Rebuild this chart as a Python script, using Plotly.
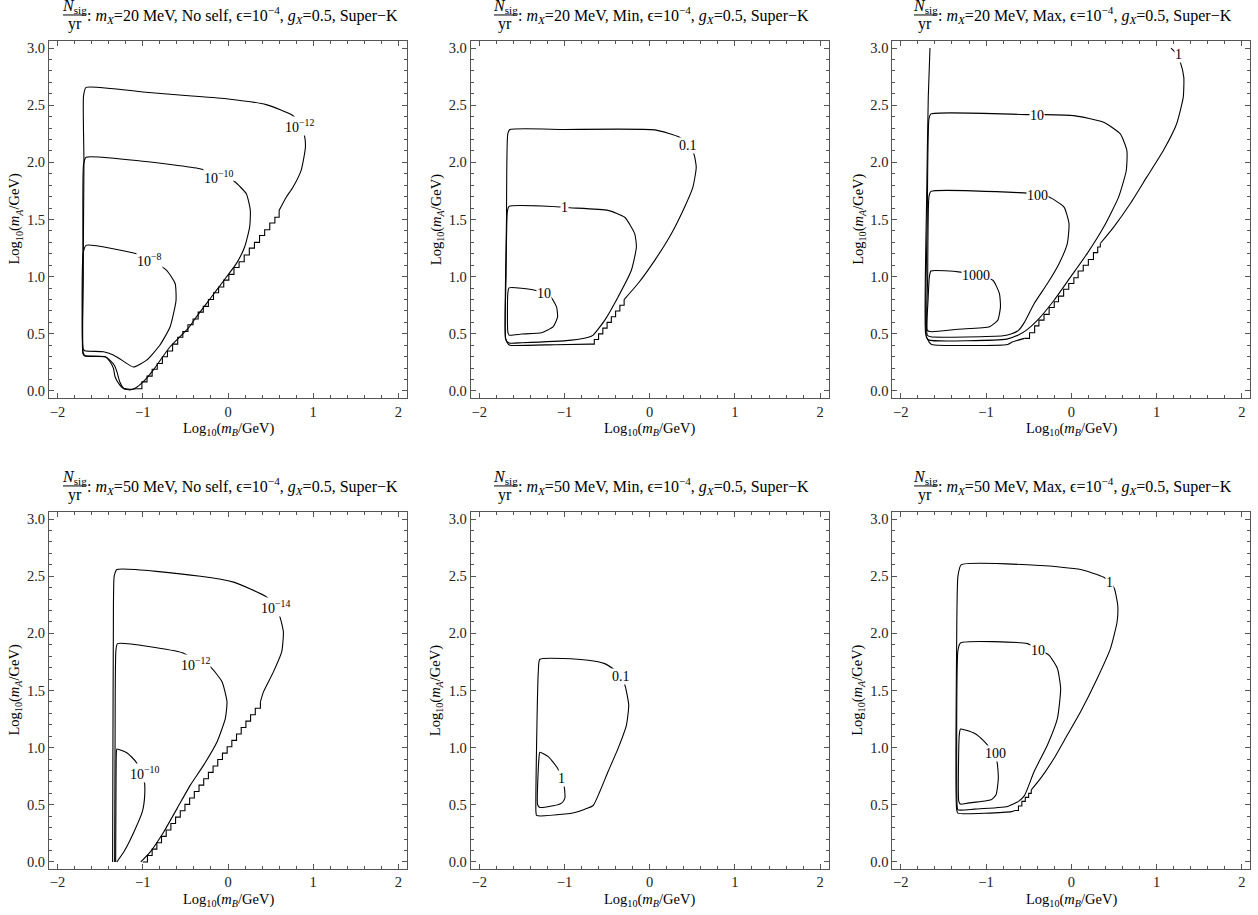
import plotly.graph_objects as go

W, H = 1258, 915
FONT = "Liberation Serif, Times New Roman, DejaVu Serif, serif"

# ---------------- axis ticks ----------------
x_tickvals = [-2, -1, 0, 1, 2]
x_ticktext = ["\u22122", "\u22121", "0", "1", "2"]
y_tickvals = [0.0, 0.5, 1.0, 1.5, 2.0, 2.5, 3.0]
y_ticktext = ["0.0", "0.5", "1.0", "1.5", "2.0", "2.5", "3.0"]
x_range = [-2.1, 2.1]
y_range = [-0.0625, 3.0625]

# ---------------- panel titles ----------------
panel_mx = ["20", "20", "20", "50", "50", "50"]
panel_mode = ["No self", "Min", "Max", "No self", "Min", "Max"]

# ---------------- panel 1 : mX=20 MeV, No self ----------------
p1_a_x = [-1.07, -1.15, -1.228, -1.283, -1.325, -1.344, -1.384, -1.44, -1.68, -1.703, -1.70, -1.69, -1.695, -1.665,
          -1.0, -0.5, 0.0, 0.448, 0.76, 0.84, 0.897, 0.908, 0.858, 0.76, 0.683, 0.60]
p1_a_y = [0.02, 0.015, 0.023, 0.067, 0.125, 0.198, 0.256, 0.30, 0.305, 0.33, 1.0, 2.0, 2.58, 2.656,
          2.616, 2.585, 2.555, 2.505, 2.41, 2.34, 2.235, 2.13, 1.93, 1.78, 1.695, 1.58]
p1_stair_x = [-1.07, -1.01, -0.95, -0.89, -0.83, -0.77, -0.71, -0.65, -0.59, -0.53, -0.47, -0.41, -0.35, -0.29,
              -0.23, -0.17, -0.11, -0.05, 0.01, 0.07, 0.13, 0.19, 0.25, 0.31, 0.37, 0.43, 0.49, 0.55, 0.60]
p1_stair_y = [0.02, 0.08, 0.13, 0.19, 0.24, 0.30, 0.35, 0.41, 0.47, 0.52, 0.58, 0.63, 0.69, 0.74,
              0.80, 0.86, 0.91, 0.97, 1.02, 1.08, 1.13, 1.19, 1.25, 1.30, 1.36, 1.41, 1.47, 1.52, 1.58]
p1_b_x = [-1.09, -1.15, -1.22, -1.27, -1.30, -1.33, -1.38, -1.44, -1.68, -1.70, -1.70, -1.695, -1.665,
          -1.0, -0.33, -0.117, 0.078, 0.215, 0.262, 0.254, 0.195, 0.098, -0.019, -0.136, -0.253, -0.37,
          -0.468, -0.68, -0.877, -0.994, -1.09]
p1_b_y = [0.023, 0.01, 0.02, 0.08, 0.16, 0.22, 0.265, 0.30, 0.31, 0.34, 1.0, 1.98, 2.045,
          2.01, 1.944, 1.89, 1.83, 1.725, 1.58, 1.434, 1.26, 1.114, 0.997, 0.88, 0.765, 0.648,
          0.547, 0.387, 0.183, 0.081, 0.023]
p1_c_x = [-1.665, -1.072, -0.916, -0.72, -0.62, -0.61, -0.68, -0.80, -0.954, -1.11, -1.247, -1.345, -1.46,
          -1.68, -1.70, -1.70, -1.665]
p1_c_y = [1.274, 1.20, 1.15, 1.056, 0.94, 0.79, 0.56, 0.40, 0.27, 0.21, 0.27, 0.314, 0.343,
          0.352, 0.37, 1.2, 1.274]
p1_lab_text = ["10<sup>\u221212</sup>", "10<sup>\u221210</sup>", "10<sup>\u22128</sup>"]
p1_lab_x = [0.838, -0.117, -0.916]
p1_lab_y = [2.322, 1.871, 1.143]

# ---------------- panel 2 : mX=20 MeV, Min ----------------
p2_a_x = [-0.30, -0.137, 0.059, 0.254, 0.41, 0.507, 0.546, 0.52, 0.45, 0.35, 0.06, -1.0, -1.64, -1.665,
          -1.68, -1.69, -1.66, -1.64, -1.112, -0.70]
p2_a_y = [0.80, 0.94, 1.143, 1.376, 1.61, 1.784, 1.958, 2.07, 2.15, 2.22, 2.284, 2.288, 2.287, 2.25,
          1.5, 0.46, 0.41, 0.40, 0.405, 0.41]
p2_stair_x = [-0.70, -0.65, -0.60, -0.55, -0.50, -0.45, -0.40, -0.35, -0.30]
p2_stair_y = [0.41, 0.45, 0.50, 0.55, 0.60, 0.65, 0.70, 0.75, 0.80]
p2_b_x = [-1.65, -1.034, -0.937, -0.488, -0.293, -0.176, -0.156, -0.215, -0.371, -0.527, -0.663, -0.72,
          -0.917, -1.50, -1.65, -1.69, -1.685, -1.67, -1.65]
p2_b_y = [1.615, 1.609, 1.603, 1.58, 1.52, 1.376, 1.26, 1.056, 0.823, 0.62, 0.489, 0.47,
          0.445, 0.422, 0.42, 0.45, 1.0, 1.57, 1.615]
p2_c_x = [-1.65, -1.346, -1.237, -1.16, -1.093, -1.081, -1.132, -1.268, -1.502, -1.65, -1.665, -1.665, -1.65]
p2_c_y = [0.902, 0.882, 0.853, 0.823, 0.736, 0.649, 0.562, 0.509, 0.498, 0.489, 0.52, 0.85, 0.902]
p2_lab_text = ["0.1", "1", "10"]
p2_lab_x = [0.449, -0.995, -1.237]
p2_lab_y = [2.147, 1.609, 0.853]

# ---------------- panel 3 : mX=20 MeV, Max ----------------
p3_a_x = [-1.658, -1.678, -1.697, -1.709, -1.67, -1.639, -0.746, -0.687, -0.55]
p3_a_y = [3.0, 2.57, 1.696, 0.503, 0.43, 0.407, 0.407, 0.43, 0.46]
p3_stair_x = [-0.55, -0.49, -0.43, -0.38, -0.32, -0.26, -0.20, -0.15, -0.09, -0.03, 0.03, 0.08, 0.14,
              0.20, 0.26, 0.31, 0.34]
p3_stair_y = [0.46, 0.51, 0.57, 0.62, 0.67, 0.73, 0.78, 0.83, 0.89, 0.94, 0.99, 1.05, 1.10,
              1.15, 1.21, 1.26, 1.29]
p3_a2_x = [0.34, 0.497, 0.691, 0.885, 1.08, 1.235, 1.313, 1.32, 1.28, 1.235, 1.17]
p3_a2_y = [1.29, 1.434, 1.638, 1.871, 2.104, 2.336, 2.569, 2.744, 2.875, 2.95, 3.0]
p3_b_x = [-1.647, -0.513, -0.318, 0.031, 0.38, 0.575, 0.652, 0.645, 0.555, 0.38, 0.186, -0.008, -0.202,
          -0.396, -0.53, -0.62, -0.757, -1.67, -1.70, -1.69, -1.67, -1.647]
p3_b_y = [2.424, 2.418, 2.418, 2.409, 2.351, 2.249, 2.104, 1.929, 1.696, 1.434, 1.202, 0.998, 0.794,
          0.62, 0.53, 0.49, 0.454, 0.445, 0.47, 1.5, 2.38, 2.424]
p3_c_x = [-1.647, -0.62, -0.40, -0.26, -0.085, -0.027, -0.047, -0.144, -0.28, -0.435, -0.55, -0.62, -0.70,
          -0.80, -1.65, -1.69, -1.685, -1.67, -1.647]
p3_c_y = [1.746, 1.735, 1.72, 1.696, 1.609, 1.464, 1.289, 1.114, 0.94, 0.765, 0.60, 0.53, 0.50,
          0.483, 0.474, 0.49, 1.0, 1.70, 1.746]
p3_d_x = [-1.647, -1.3, -1.115, -0.92, -0.843, -0.831, -0.862, -0.959, -1.328, -1.639, -1.689, -1.68,
          -1.665, -1.647]
p3_d_y = [1.05, 1.04, 1.013, 0.969, 0.852, 0.736, 0.62, 0.562, 0.54, 0.518, 0.53, 0.8, 1.0, 1.05]
p3_lab_text = ["1", "10", "100", "1000"]
p3_lab_x = [1.254, -0.404, -0.396, -1.115]
p3_lab_y = [2.947, 2.409, 1.711, 1.013]

# ---------------- panel 4 : mX=50 MeV, No self ----------------
p4_stair_x = [-1.00, -0.945, -0.89, -0.835, -0.78, -0.725, -0.67, -0.615, -0.56, -0.505, -0.45, -0.395, -0.34,
              -0.285, -0.23, -0.175, -0.12, -0.065, -0.01, 0.045, 0.10, 0.155, 0.21, 0.265, 0.32, 0.38]
p4_stair_y = [0.00, 0.056, 0.112, 0.168, 0.224, 0.28, 0.336, 0.392, 0.448, 0.504, 0.56, 0.616, 0.672,
              0.728, 0.784, 0.84, 0.896, 0.952, 1.008, 1.064, 1.12, 1.176, 1.232, 1.288, 1.344, 1.40]
p4_a_x = [0.38, 0.416, 0.533, 0.63, 0.65, 0.61, 0.553, 0.455, 0.066, -0.323, -1.303, -1.335, -1.345, -1.35, -1.354]
p4_a_y = [1.40, 1.488, 1.663, 1.837, 2.012, 2.142, 2.23, 2.317, 2.448, 2.50, 2.558, 2.50, 2.0, 1.0, 0.0]
p4_b_x = [-1.33, -1.325, -1.315, -1.296, -0.537, -0.38, -0.206, -0.07, -0.012, -0.031, -0.128, -0.284, -0.44,
          -0.595, -0.751, -0.907, -1.023]
p4_b_y = [0.0, 1.0, 1.85, 1.91, 1.831, 1.77, 1.706, 1.576, 1.401, 1.256, 1.052, 0.849, 0.674,
          0.471, 0.267, 0.093, 0.0]
p4_c_x = [-1.318, -1.315, -1.31, -1.303, -1.179, -1.082, -1.03, -0.984, -0.977, -1.004, -1.101, -1.218, -1.304]
p4_c_y = [0.0, 0.5, 0.95, 0.988, 0.951, 0.878, 0.80, 0.718, 0.587, 0.442, 0.267, 0.093, 0.0]
p4_lab_text = ["10<sup>\u221214</sup>", "10<sup>\u221212</sup>", "10<sup>\u221210</sup>"]
p4_lab_x = [0.553, -0.381, -0.984]
p4_lab_y = [2.23, 1.735, 0.776]

# ---------------- panel 5 : mX=50 MeV, Min ----------------
p5_a_x = [-1.288, -0.722, -0.527, -0.34, -0.285, -0.246, -0.273, -0.371, -0.488, -0.585, -0.663, -0.76,
          -0.878, -0.995, -1.327, -1.335, -1.327, -1.307, -1.288]
p5_a_y = [1.773, 1.765, 1.735, 1.64, 1.532, 1.372, 1.198, 0.994, 0.791, 0.616, 0.494, 0.462,
          0.433, 0.419, 0.407, 0.442, 1.023, 1.663, 1.773]
p5_b_x = [-1.288, -1.19, -1.081, -1.034, -1.003, -0.995, -1.034, -1.132, -1.288, -1.315, -1.30, -1.288]
p5_b_y = [0.959, 0.922, 0.82, 0.733, 0.66, 0.558, 0.515, 0.491, 0.477, 0.50, 0.9, 0.959]
p5_lab_text = ["0.1", "1"]
p5_lab_x = [-0.34, -1.034]
p5_lab_y = [1.619, 0.733]

# ---------------- panel 6 : mX=50 MeV, Max ----------------
p6_stair_x = [-0.66, -0.62, -0.58, -0.54, -0.50, -0.47]
p6_stair_y = [0.45, 0.49, 0.53, 0.565, 0.60, 0.63]
p6_a_x = [-0.47, -0.358, -0.202, -0.047, 0.109, 0.304, 0.459, 0.537, 0.545, 0.506, 0.451, 0.381, 0.109,
          -0.358, -1.292, -1.33, -1.345, -1.345, -1.331, -0.70, -0.66]
p6_a_y = [0.63, 0.733, 0.907, 1.11, 1.314, 1.605, 1.866, 2.099, 2.244, 2.39, 2.45, 2.491, 2.558,
          2.593, 2.599, 2.5, 1.9, 0.46, 0.427, 0.44, 0.45]
p6_b_x = [-1.3, -0.514, -0.39, -0.26, -0.163, -0.125, -0.163, -0.28, -0.436, -0.55, -0.62, -0.747, -1.136,
          -1.331, -1.34, -1.33, -1.3]
p6_b_y = [1.916, 1.91, 1.86, 1.808, 1.692, 1.517, 1.256, 1.023, 0.791, 0.58, 0.53, 0.485, 0.462,
          0.456, 0.50, 1.85, 1.916]
p6_c_x = [-1.3, -1.136, -1.019, -0.94, -0.872, -0.856, -0.883, -0.942, -1.214, -1.3, -1.32, -1.315, -1.3]
p6_c_y = [1.163, 1.125, 1.052, 0.98, 0.878, 0.733, 0.587, 0.544, 0.515, 0.506, 0.53, 1.1, 1.163]
p6_lab_text = ["1", "10", "100"]
p6_lab_x = [0.451, -0.389, -0.895]
p6_lab_y = [2.442, 1.852, 0.951]

panels = [
    dict(lines=[(p1_a_x, p1_a_y), (p1_b_x, p1_b_y), (p1_c_x, p1_c_y)], stairs=[(p1_stair_x, p1_stair_y)],
         labels=(p1_lab_text, p1_lab_x, p1_lab_y)),
    dict(lines=[(p2_a_x, p2_a_y), (p2_b_x, p2_b_y), (p2_c_x, p2_c_y)], stairs=[(p2_stair_x, p2_stair_y)],
         labels=(p2_lab_text, p2_lab_x, p2_lab_y)),
    dict(lines=[(p3_a_x, p3_a_y), (p3_a2_x, p3_a2_y), (p3_b_x, p3_b_y), (p3_c_x, p3_c_y), (p3_d_x, p3_d_y)],
         stairs=[(p3_stair_x, p3_stair_y)], labels=(p3_lab_text, p3_lab_x, p3_lab_y)),
    dict(lines=[(p4_a_x, p4_a_y), (p4_b_x, p4_b_y), (p4_c_x, p4_c_y)], stairs=[(p4_stair_x, p4_stair_y)],
         labels=(p4_lab_text, p4_lab_x, p4_lab_y)),
    dict(lines=[(p5_a_x, p5_a_y), (p5_b_x, p5_b_y)], stairs=[], labels=(p5_lab_text, p5_lab_x, p5_lab_y)),
    dict(lines=[(p6_a_x, p6_a_y), (p6_b_x, p6_b_y), (p6_c_x, p6_c_y)], stairs=[(p6_stair_x, p6_stair_y)],
         labels=(p6_lab_text, p6_lab_x, p6_lab_y)),
]

# layout geometry (pixels)
col_left = [49, 470.7, 892.3]
row_top = [40, 512]
SIZE = 358
frac_bar = [(14, 37), (23.3, 46), (21.7, 44.4)]

TICK_SIZE = 14.5
LAB_SIZE = 14
TITLE_SIZE = 16


def px(x):
    return x / W


def py(y):
    return 1 - y / H


def ann(**kw):
    d = dict(showarrow=False, xanchor="center", yanchor="middle")
    d.update(kw)
    return d


fig = go.Figure()
layout = dict(width=W, height=H, margin=dict(l=0, r=0, t=0, b=0, pad=0), paper_bgcolor="white",
              plot_bgcolor="white", showlegend=False, font=dict(family=FONT, size=14, color="black"))
annotations = []
shapes = []

for k, p in enumerate(panels):
    r, c = divmod(k, 3)
    n = "" if k == 0 else str(k + 1)
    xa, ya = "x" + n, "y" + n
    L, T = col_left[c], row_top[r]
    axis_common = dict(showgrid=False, zeroline=False, showline=True, linecolor="#555", linewidth=1,
                       mirror="allticks", ticks="inside", ticklen=5, tickwidth=1, tickcolor="#555",
                       tickfont=dict(family=FONT, size=TICK_SIZE, color="#222"))
    layout["xaxis" + n] = dict(domain=[px(L), px(L + SIZE)], range=x_range, anchor=ya,
                               tickvals=x_tickvals, ticktext=x_ticktext,
                               minor=dict(dtick=0.2, tick0=0, ticks="inside", ticklen=3, tickcolor="#555"),
                               **axis_common)
    layout["yaxis" + n] = dict(domain=[py(T + SIZE), py(T)], range=y_range, anchor=xa,
                               tickvals=y_tickvals, ticktext=y_ticktext,
                               minor=dict(dtick=0.1, tick0=0, ticks="inside", ticklen=3, tickcolor="#555"),
                               **axis_common)
    for lx, ly in p["lines"]:
        fig.add_trace(go.Scatter(x=lx, y=ly, mode="lines",
                                 line=dict(color="black", width=1.1, shape="spline", smoothing=0.5),
                                 xaxis=xa, yaxis=ya, hoverinfo="skip"))
    for sx, sy in p["stairs"]:
        fig.add_trace(go.Scatter(x=sx, y=sy, mode="lines", line=dict(color="black", width=1.1, shape="hv"),
                                 xaxis=xa, yaxis=ya, hoverinfo="skip"))
    texts, lxs, lys = p["labels"]
    for t, lx, ly in zip(texts, lxs, lys):
        annotations.append(ann(x=lx, y=ly, xref=xa, yref=ya, text=t, bgcolor="white", borderpad=0,
                               font=dict(family=FONT, size=LAB_SIZE, color="black")))
    # axis titles
    annotations.append(ann(x=px(L + SIZE / 2), y=py(T + SIZE + 31), xref="paper", yref="paper",
                           text="Log<sub>10</sub>(<i>m<sub>B</sub></i>/GeV)",
                           font=dict(family=FONT, size=TICK_SIZE, color="black")))
    annotations.append(ann(x=px(L - 34), y=py(T + SIZE / 2), xref="paper", yref="paper",
                           text="Log<sub>10</sub>(<i>m<sub>A</sub></i>/GeV)", textangle=-90,
                           font=dict(family=FONT, size=TICK_SIZE, color="black")))
    # title: fraction N_sig / yr followed by the rest
    b0, b1 = frac_bar[c]
    ybar = T - 26
    shapes.append(dict(type="line", xref="paper", yref="paper", x0=px(L + b0), x1=px(L + b1),
                       y0=py(ybar), y1=py(ybar), line=dict(color="black", width=1)))
    annotations.append(ann(x=px(L + (b0 + b1) / 2), y=py(ybar - 8), xref="paper", yref="paper",
                           text="<i>N</i><sub>sig</sub>", font=dict(family=FONT, size=TITLE_SIZE, color="black")))
    annotations.append(ann(x=px(L + (b0 + b1) / 2), y=py(ybar + 9), xref="paper", yref="paper",
                           text="yr", font=dict(family=FONT, size=TITLE_SIZE, color="black")))
    rest = (": <i>m<sub>X</sub></i>=" + panel_mx[k] + " MeV, " + panel_mode[k] +
            ", \u03f5=10<sup>\u22124</sup>, <i>g<sub>X</sub></i>=0.5, Super\u2212K")
    annotations.append(ann(x=px(L + b1 - 1), y=py(ybar), xref="paper", yref="paper", xanchor="left",
                           text=rest, font=dict(family=FONT, size=TITLE_SIZE, color="black")))

layout["annotations"] = annotations
layout["shapes"] = shapes
fig.update_layout(**layout)
fig.write_html("out.html", config={"displayModeBar": False},
               post_script="document.body.style.margin='0';document.body.style.padding='0';"
                           "document.body.style.overflow='hidden';")
